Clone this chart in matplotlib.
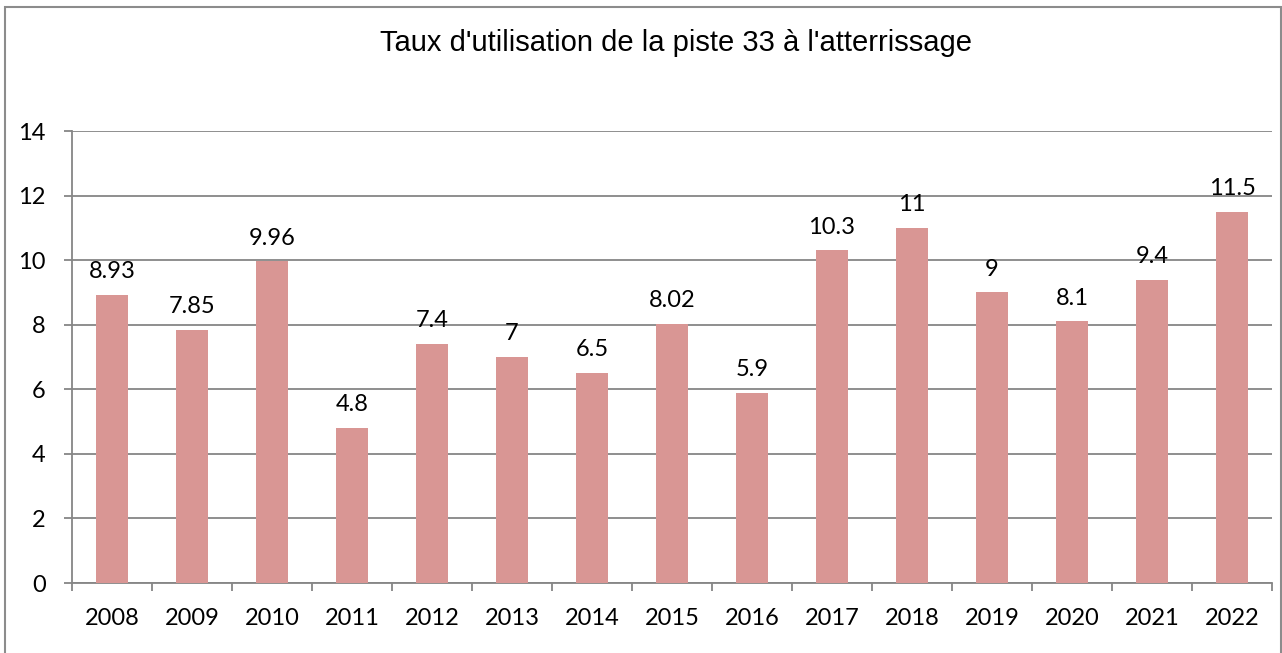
import matplotlib.pyplot as plt
from matplotlib.patches import Rectangle

# data
years = ['2008', '2009', '2010', '2011', '2012', '2013', '2014', '2015',
         '2016', '2017', '2018', '2019', '2020', '2021', '2022']
values = [8.93, 7.85, 9.96, 4.8, 7.4, 7, 6.5, 8.02, 5.9, 10.3, 11, 9, 8.1, 9.4, 11.5]
labels = ['8.93', '7.85', '9.96', '4.8', '7.4', '7', '6.5', '8.02', '5.9',
          '10.3', '11', '9', '8.1', '9.4', '11.5']

W, H = 1282, 653
fig = plt.figure(figsize=(W / 100, H / 100), dpi=100)
ax = fig.add_axes([72 / W, 1 - 583 / H, (1272 - 72) / W, (583 - 131) / H])

grid_c = '#868686'
fs = 17
x = list(range(len(years)))
ax.bar(x, values, width=0.4, color='#D99694', zorder=3)
for xi, v, lab in zip(x, values, labels):
    ax.text(xi, v + 0.4, lab, ha='center', va='bottom', fontsize=fs,
            family='Lato', zorder=4)

ax.set_xlim(-0.5, len(years) - 0.5)
ax.set_ylim(0, 14)
ax.set_yticks(range(0, 15, 2))
ax.yaxis.grid(True, color=grid_c, linewidth=1.3, zorder=0)
ax.set_axisbelow(True)

ax.set_xticks(x)
ax.set_xticklabels(years, fontsize=fs, family='Lato')
ax.set_xticks([i - 0.5 for i in range(len(years) + 1)], minor=True)
ax.tick_params(axis='x', which='major', length=0, pad=18)
ax.tick_params(axis='x', which='minor', length=6, color=grid_c, width=1.3)
ax.tick_params(axis='y', length=6, color=grid_c, width=1.3, labelsize=fs, pad=13)
for lab in ax.get_yticklabels():
    lab.set_family('Lato')

for s in ['top', 'right']:
    ax.spines[s].set_visible(False)
ax.spines['left'].set_color(grid_c)
ax.spines['bottom'].set_color(grid_c)
ax.spines['left'].set_linewidth(1.3)
ax.spines['bottom'].set_linewidth(1.3)

fig.text(676 / W, 1 - 43 / H, "Taux d'utilisation de la piste 33 à l'atterrissage",
         ha='center', va='center', fontsize=21, family='Liberation Sans')

fig.patches.append(Rectangle((5 / W, -0.05), (1281 - 5) / W, 1 - 7 / H + 0.05,
                             transform=fig.transFigure, fill=False,
                             edgecolor='#8c8c8c', linewidth=1.5))

fig.savefig('out.png', dpi=100)
